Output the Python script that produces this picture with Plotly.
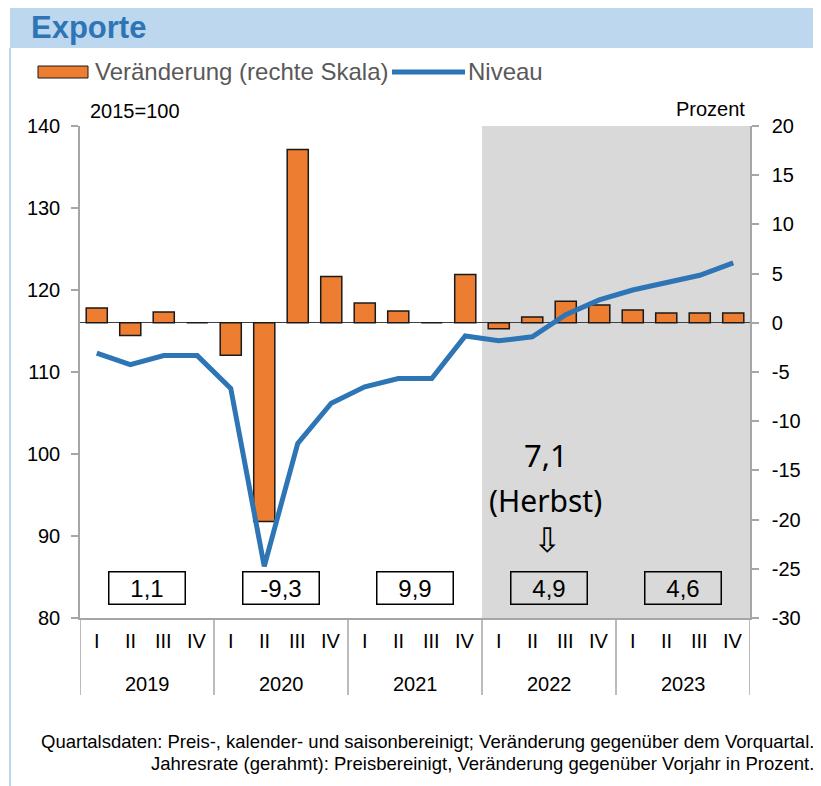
import plotly.graph_objects as go

# ---------------- data ----------------
years = ["2019", "2020", "2021", "2022", "2023"]
quarters = ["I", "II", "III", "IV"]
veraenderung = [1.5, -1.3, 1.1, 0.0, -3.3, -20.2, 17.6, 4.7, 2.0, 1.2, 0.0, 4.9,
                -0.6, 0.6, 2.2, 1.8, 1.3, 1.0, 1.0, 1.0]
niveau = [112.3, 110.9, 112.0, 112.0, 108.0, 86.3, 101.3, 106.2, 108.2, 109.2, 109.2, 114.4,
          113.8, 114.3, 117.0, 118.8, 120.0, 120.9, 121.8, 123.3]
jahresrate = ["1,1", "-9,3", "9,9", "4,9", "4,6"]
prognose_text = ["7,1", "(Herbst)"]
left_ticks = [80, 90, 100, 110, 120, 130, 140]
right_ticks = [-30, -25, -20, -15, -10, -5, 0, 5, 10, 15, 20]

n = len(years) * len(quarters)
xidx = list(range(n))

FONT = "Liberation Sans, Arial, sans-serif"
ORANGE = "#ED7D31"
BLUE = "#2E75B6"
AXIS = "#A6A6A6"

# page body has an 8px margin -> figure is placed at (8, 8)
OFF = 8
W, H = 821 - OFF, 786 - OFF
L, T = 80 - OFF, 126 - OFF
PW, PH = 670, 492
R = W - L - PW
B = H - T - PH


def px(x):
    return (x - OFF - L) / PW


def py(y):
    return (H - B - (y - OFF)) / PH


fig = go.Figure()

fig.add_trace(go.Bar(
    x=xidx, y=veraenderung, yaxis="y", width=0.63,
    marker=dict(color=ORANGE, line=dict(color="#1a1a1a", width=1.5)),
    showlegend=False, hoverinfo="skip"))

fig.add_trace(go.Scatter(
    x=xidx, y=niveau, yaxis="y2", mode="lines",
    line=dict(color=BLUE, width=5),
    showlegend=False, hoverinfo="skip"))

shapes = []
annotations = []

# shaded forecast area (2022-2023)
shapes.append(dict(type="rect", xref="x", yref="paper", x0=11.5, x1=19.5, y0=0, y1=1,
                   fillcolor="#D9D9D9", line=dict(width=0), layer="below"))

# title bar
shapes.append(dict(type="rect", xref="paper", yref="paper", x0=px(10), x1=px(822),
                   y0=py(48), y1=py(7), fillcolor="#BDD7EE", line=dict(width=0), layer="below"))
shapes.append(dict(type="line", xref="paper", yref="paper", x0=px(10), x1=px(10),
                   y0=py(787), y1=py(48), line=dict(color="#BDD7EE", width=2)))
annotations.append(dict(text="<b>Exporte</b>", xref="paper", yref="paper", x=px(29), y=py(28),
                        xanchor="left", yanchor="middle", showarrow=False,
                        font=dict(family=FONT, size=31, color="#2E75B6")))

# legend (manual)
shapes.append(dict(type="rect", xref="paper", yref="paper", x0=px(38), x1=px(88),
                   y0=py(78), y1=py(66), fillcolor=ORANGE, line=dict(color="#1a1a1a", width=1)))
annotations.append(dict(text="Veränderung (rechte Skala)", xref="paper", yref="paper",
                        x=px(93), y=py(72), xanchor="left", yanchor="middle", showarrow=False,
                        font=dict(family=FONT, size=24, color="#595959")))
shapes.append(dict(type="line", xref="paper", yref="paper", x0=px(392), x1=px(465),
                   y0=py(72), y1=py(72), line=dict(color=BLUE, width=5)))
annotations.append(dict(text="Niveau", xref="paper", yref="paper",
                        x=px(466), y=py(72), xanchor="left", yanchor="middle", showarrow=False,
                        font=dict(family=FONT, size=24, color="#595959")))

# axis unit labels
annotations.append(dict(text="2015=100", xref="paper", yref="paper", x=px(88), y=py(111),
                        xanchor="left", yanchor="middle", showarrow=False,
                        font=dict(family=FONT, size=20, color="#000000")))
annotations.append(dict(text="Prozent", xref="paper", yref="paper", x=px(747), y=py(109),
                        xanchor="right", yanchor="middle", showarrow=False,
                        font=dict(family=FONT, size=20, color="#000000")))

# category labels and dividers
for i in xidx:
    annotations.append(dict(text=quarters[i % 4], xref="x", yref="paper", x=i, y=py(641),
                            xanchor="center", yanchor="middle", showarrow=False,
                            font=dict(family=FONT, size=20, color="#000000")))
for k, yr in enumerate(years):
    annotations.append(dict(text=yr, xref="x", yref="paper", x=4 * k + 1.5, y=py(684),
                            xanchor="center", yanchor="middle", showarrow=False,
                            font=dict(family=FONT, size=20, color="#000000")))
    annotations.append(dict(text=jahresrate[k], xref="x", yref="paper", x=4 * k + 1.5, y=py(588),
                            xanchor="center", yanchor="middle", showarrow=False,
                            width=72, height=28, borderpad=1.5,
                            bordercolor="#000000", borderwidth=1.5,
                            bgcolor="#FFFFFF" if k < 3 else "rgba(0,0,0,0)",
                            font=dict(family=FONT, size=24, color="#000000")))
for k in range(len(years) + 1):
    shapes.append(dict(type="line", xref="x", yref="paper", x0=4 * k - 0.5, x1=4 * k - 0.5,
                       y0=py(695), y1=0, line=dict(color=AXIS, width=1.5)))

# forecast annotation
annotations.append(dict(text=prognose_text[0], xref="x", yref="paper", x=13.4, y=py(455),
                        xanchor="center", yanchor="middle", showarrow=False,
                        font=dict(family="Noto Sans, sans-serif", size=31, color="#000000")))
annotations.append(dict(text=prognose_text[1], xref="x", yref="paper", x=13.4, y=py(500),
                        xanchor="center", yanchor="middle", showarrow=False,
                        font=dict(family="Noto Sans, sans-serif", size=30, color="#000000")))
annotations.append(dict(text="⇩", xref="x", yref="paper", x=13.45, y=py(540),
                        xanchor="center", yanchor="middle", showarrow=False,
                        font=dict(family="DejaVu Sans, sans-serif", size=34, color="#000000")))

# footnote
annotations.append(dict(text="Quartalsdaten: Preis-, kalender- und saisonbereinigt; Veränderung gegenüber dem Vorquartal.",
                        xref="paper", yref="paper", x=px(816), y=py(741),
                        xanchor="right", yanchor="middle", showarrow=False,
                        font=dict(family=FONT, size=18.5, color="#000000")))
annotations.append(dict(text="Jahresrate (gerahmt): Preisbereinigt, Veränderung gegenüber Vorjahr in Prozent.",
                        xref="paper", yref="paper", x=px(816), y=py(763),
                        xanchor="right", yanchor="middle", showarrow=False,
                        font=dict(family=FONT, size=18.5, color="#000000")))

fig.update_layout(
    width=W, height=H,
    margin=dict(l=L, r=R, t=T, b=B, pad=0),
    paper_bgcolor="#FFFFFF", plot_bgcolor="rgba(0,0,0,0)",
    font=dict(family=FONT, size=20, color="#000000"),
    xaxis=dict(range=[-0.5, 19.5], showticklabels=False, ticks="", showgrid=False,
               zeroline=False, showline=True, linecolor=AXIS, linewidth=1.5, fixedrange=True),
    yaxis=dict(side="right", range=[-30, 20], tickvals=right_ticks,
               ticktext=[str(v) for v in right_ticks], ticks="outside",
               ticklen=7, tickcolor=AXIS, tickwidth=1.5, showgrid=False, ticklabelstandoff=9,
               zeroline=True, zerolinecolor="#404040", zerolinewidth=1.2,
               showline=True, linecolor=AXIS, linewidth=1.5,
               tickfont=dict(family=FONT, size=20, color="#000000")),
    yaxis2=dict(side="left", overlaying="y", range=[80, 140], tickvals=left_ticks,
                ticks="outside", ticklen=7, tickcolor=AXIS, tickwidth=1.5, showgrid=False,
                ticklabelstandoff=7,
                zeroline=False, showline=True, linecolor=AXIS, linewidth=1.5,
                tickfont=dict(family=FONT, size=20, color="#000000")),
    shapes=shapes,
    annotations=annotations,
    showlegend=False,
)

fig.write_html("out.html")
